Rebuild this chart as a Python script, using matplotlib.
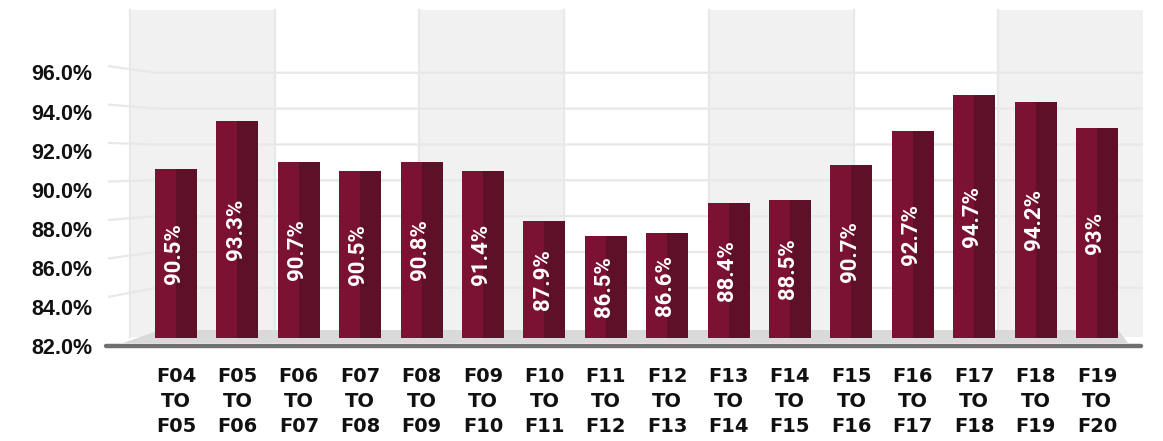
import matplotlib
matplotlib.use("Agg")
import matplotlib.pyplot as plt
import numpy as np

# ---------------- data ----------------
categories = ["F04\nTO\nF05", "F05\nTO\nF06", "F06\nTO\nF07", "F07\nTO\nF08",
              "F08\nTO\nF09", "F09\nTO\nF10", "F10\nTO\nF11", "F11\nTO\nF12",
              "F12\nTO\nF13", "F13\nTO\nF14", "F14\nTO\nF15", "F15\nTO\nF16",
              "F16\nTO\nF17", "F17\nTO\nF18", "F18\nTO\nF19", "F19\nTO\nF20"]
bar_heights = [90.4, 93.2, 90.8, 90.3, 90.8, 90.3, 87.4, 86.5,
               86.7, 88.4, 88.6, 90.6, 92.6, 94.7, 94.3, 92.8]
value_labels = ["90.5%", "93.3%", "90.7%", "90.5%", "90.8%", "91.4%", "87.9%", "86.5%",
                "86.6%", "88.4%", "88.5%", "90.7%", "92.7%", "94.7%", "94.2%", "93%"]
y_ticks = [82, 84, 86, 88, 90, 92, 94, 96]
y_tick_labels = ["82.0%", "84.0%", "86.0%", "88.0%", "90.0%", "92.0%", "94.0%", "96.0%"]

# ---------------- style ----------------
W, H = 1163, 441
LIGHT = "#7B1234"
DARK = "#5F1029"
BAND = "#F1F1F1"
GRID = "#E8E8E8"
FLOOR = "#D9D9D9"
AXLINE = "#707070"

fig = plt.figure(figsize=(W / 100, H / 100), dpi=100)

# background "3D frame" drawn in pixel space
bg = fig.add_axes([0, 0, 1, 1], zorder=0)
bg.set_xlim(0, W)
bg.set_ylim(H, 0)
bg.axis("off")

wall_left, wall_right, wall_top, wall_bottom = 130, 1143, 10, 337
n_bands = 7
bw = (wall_right - wall_left) / n_bands
for k in range(n_bands):
    if k % 2 == 0:
        bg.add_patch(plt.Rectangle((wall_left + k * bw, wall_top), bw, wall_bottom - wall_top,
                                   color=BAND, lw=0, zorder=1))
for k in range(n_bands):
    xk = wall_left + k * bw
    bg.plot([xk, xk], [wall_top, wall_bottom], color=GRID, lw=1.6, zorder=2)

def wall_y(v):
    return 180.3 - 17.93 * (v - 90)

def side_y(v):
    return 335.5 - 19.25 * (v - 82)

for v in y_ticks[1:]:
    bg.plot([108, 155, wall_right], [side_y(v), wall_y(v), wall_y(v)],
            color=GRID, lw=1.6, zorder=2, solid_capstyle="butt")

# floor
bg.add_patch(plt.Polygon([(123, 343), (160, 330), (1118, 330), (1128, 343)],
                         closed=True, color=FLOOR, lw=0, zorder=3))
bg.plot([106, 1141], [345.5, 345.5], color=AXLINE, lw=3.2, solid_capstyle="round", zorder=4)

# ---------------- bars ----------------
ax_left_px, ax_right_px, ax_top_px, ax_bot_px = 130, 1143, 10, 338
ax = fig.add_axes([ax_left_px / W, (H - ax_bot_px) / H,
                   (ax_right_px - ax_left_px) / W, (ax_bot_px - ax_top_px) / H], zorder=2)
ax.patch.set_alpha(0)
ymin, ymax = 80.57, 99.64
ax.set_ylim(ymin, ymax)
ax.set_xlim(-0.75, 15.75)
x = np.arange(len(categories))
bw_bar = 0.684
heights = np.array(bar_heights) - ymin
ax.bar(x - bw_bar / 4, heights, width=bw_bar / 2, bottom=ymin, color=LIGHT, lw=0)
ax.bar(x + bw_bar / 4, heights, width=bw_bar / 2, bottom=ymin, color=DARK, lw=0)
for xi, h, lab in zip(x, bar_heights, value_labels):
    ax.text(xi - 0.03, (ymin + h) / 2, lab, rotation=90, ha="center", va="center",
            color="white", fontsize=16, family="Roboto", fontweight="bold")

for s in ax.spines.values():
    s.set_visible(False)
ax.set_yticks([])
ax.set_xticks(x)
ax.set_xticklabels(categories, family="DejaVu Sans", fontweight="bold",
                   fontsize=14, color="#111111", linespacing=1.38)
ax.tick_params(axis="x", length=0, pad=21)

# ---------------- front value axis ----------------
f_top, f_bot = 72.5, 346.5
axf = fig.add_axes([108 / W, (H - f_bot) / H, 10 / W, (f_bot - f_top) / H], zorder=1)
axf.patch.set_alpha(0)
axf.set_ylim(82, 96)
for s in axf.spines.values():
    s.set_visible(False)
axf.set_xticks([])
axf.set_yticks(y_ticks)
axf.set_yticklabels(y_tick_labels, family="Liberation Sans", fontweight="bold",
                    fontsize=15.5, color="#111111")
axf.tick_params(axis="y", length=0, pad=11)

fig.savefig("out.png", dpi=100)
